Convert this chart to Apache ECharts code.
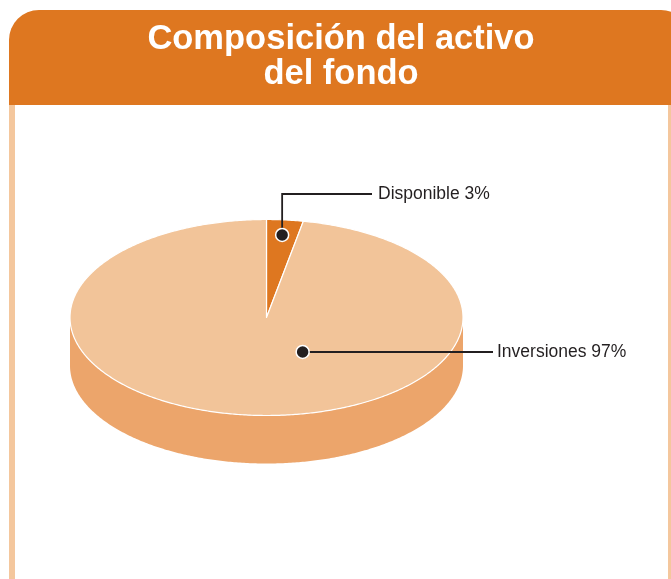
<!DOCTYPE html>
<html>
<head>
<meta charset="utf-8">
<script src="https://cdn.jsdelivr.net/npm/echarts@6/dist/echarts.min.js"></script>
<style>
  html, body { margin: 0; padding: 0; background: #ffffff; }
  #chart { width: 671px; height: 579px; }
</style>
</head>
<body>
<div id="chart"></div>
<script>
// ---- Data ----
const titleText = 'Composición del activo\ndel fondo';
const categories = ['Disponible', 'Inversiones'];
const values = [3, 97];
const labelTexts = ['Disponible 3%', 'Inversiones 97%'];

// ---- Style / layout ----
const CX = 266.5, CY = 317.5, RX = 196.5, RY = 98, DEPTH = 48;
const topColors = ['#DE7720', '#F2C499'];
const sideColors = ['#C9661A', '#ECA56B'];
const INK = '#231F20';
// label anchor: [angle in degrees clockwise from 12 o'clock (null = slice middle), radius fraction]
const labelAnchor = [[null, 0.846], [152.4, 0.397]];
const labelLineY = [194, null];     // null = stay on the anchor's height
const labelLineEndX = [372, 493];
const labelTextX = [378, 497];

const total = values.reduce((a, b) => a + b, 0);
function sliceRange(i) {
  let before = 0;
  for (let j = 0; j < i; j++) before += values[j];
  const s = before / total * Math.PI * 2;
  const e = (before + values[i]) / total * Math.PI * 2;
  return [s, e];
}
function pt(theta, k, dy) {
  return [CX + RX * k * Math.sin(theta), CY - RY * k * Math.cos(theta) + (dy || 0)];
}
function arc(a, b, k, dy) {
  const pts = [];
  const n = Math.max(2, Math.ceil(Math.abs(b - a) / 0.01));
  for (let t = 0; t <= n; t++) pts.push(pt(a + (b - a) * t / n, k, dy));
  return pts;
}

const chart = echarts.init(document.getElementById('chart'), null, { renderer: 'canvas' });

const option = {
  backgroundColor: '#ffffff',
  animation: false,
  graphic: [
    { type: 'rect', shape: { x: 9, y: 10, width: 680, height: 95, r: [30, 28, 0, 0] }, style: { fill: '#DE7720' }, z: 1 },
    { type: 'rect', shape: { x: 9, y: 105, width: 6, height: 480 }, style: { fill: '#F4C79D' }, z: 1 },
    { type: 'rect', shape: { x: 668, y: 105, width: 3, height: 480 }, style: { fill: '#F4C79D' }, z: 1 },
    {
      type: 'text', x: 341, y: 22, z: 2,
      style: {
        text: titleText, fill: '#ffffff', align: 'center', verticalAlign: 'top',
        font: 'bold 34.5px "Liberation Sans", Arial, Helvetica, sans-serif', lineHeight: 35
      }
    }
  ],
  series: [
    {
      // visible front sides of the 3D pie
      type: 'custom', coordinateSystem: 'none', z: 2, silent: true,
      data: values.map((v, i) => ({ name: categories[i], value: v })),
      renderItem: function (params, api) {
        const i = params.dataIndex;
        const r = sliceRange(i);
        const a = Math.max(r[0], Math.PI / 2), b = Math.min(r[1], Math.PI * 1.5);
        if (!(api.value(0) > 0) || a >= b) return { type: 'group', children: [] };
        const pts = arc(a, b, 1, 0).concat(arc(b, a, 1, DEPTH));
        return { type: 'polygon', shape: { points: pts }, style: { fill: sideColors[i] } };
      }
    },
    {
      // top face slices
      type: 'custom', coordinateSystem: 'none', z: 3, silent: true,
      data: values.map((v, i) => ({ name: categories[i], value: v })),
      renderItem: function (params, api) {
        const i = params.dataIndex;
        if (!(api.value(0) > 0)) return { type: 'group', children: [] };
        const r = sliceRange(i);
        const pts = [[CX, CY]].concat(arc(r[0], r[1], 1, 0));
        return {
          type: 'polygon', shape: { points: pts },
          style: { fill: topColors[i], stroke: '#ffffff', lineWidth: 1.2, lineJoin: 'round' }
        };
      }
    },
    {
      // labels with leader lines and dots
      type: 'custom', coordinateSystem: 'none', z: 4, silent: true,
      data: values.map((v, i) => ({ name: categories[i], value: v })),
      renderItem: function (params, api) {
        const i = params.dataIndex;
        const r = sliceRange(i);
        const ang = labelAnchor[i][0] == null ? (r[0] + r[1]) / 2 : labelAnchor[i][0] * Math.PI / 180;
        const p = pt(ang, labelAnchor[i][1], 0);
        const ly = labelLineY[i] == null ? p[1] : labelLineY[i];
        const linePts = ly === p[1] ? [p, [labelLineEndX[i], ly]] : [p, [p[0], ly], [labelLineEndX[i], ly]];
        return {
          type: 'group',
          children: [
            { type: 'polyline', shape: { points: linePts }, style: { stroke: INK, lineWidth: 1.8, fill: null } },
            { type: 'circle', shape: { cx: p[0], cy: p[1], r: 6.5 }, style: { fill: INK, stroke: '#ffffff', lineWidth: 1.5 } },
            {
              type: 'text', x: labelTextX[i], y: ly + 0.5,
              style: {
                text: labelTexts[i], fill: INK, align: 'left', verticalAlign: 'middle',
                font: '17.5px "Liberation Sans", Arial, Helvetica, sans-serif'
              }
            }
          ]
        };
      }
    }
  ]
};
chart.setOption(option);
</script>
</body>
</html>
